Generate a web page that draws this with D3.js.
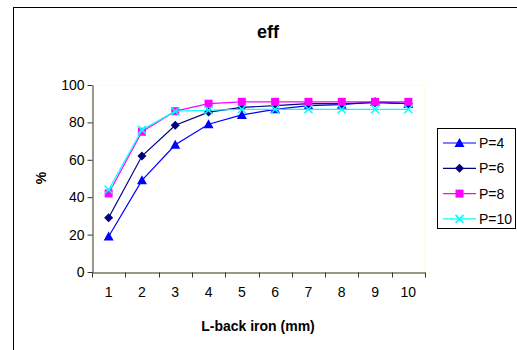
<!DOCTYPE html>
<html>
<head>
<meta charset="utf-8">
<script src="https://cdn.jsdelivr.net/npm/d3@7"></script>
<style>
  body { margin: 0; background: #fff; }
  svg { font-family: "Liberation Sans", Arial, sans-serif; }
</style>
</head>
<body>
<div id="chart"></div>
<script>
// chart data
const categories = ['1', '2', '3', '4', '5', '6', '7', '8', '9', '10'];
const p4 = [19, 49, 68, 79, 84, 87, 89, 89.5, 91, 90];
const p6 = [29, 62, 78.5, 85.5, 88, 89, 90, 90, 90.5, 90];
const p8 = [42, 75, 86, 90, 91, 91, 91, 91, 91, 91];
const p10 = [44, 76, 86, 86.5, 87, 87, 87, 87, 87, 87];
const yTicks = [0, 20, 40, 60, 80, 100];

const series = [
  {name: 'P=4', values: p4, color: '#0000ff', marker: 'triangle'},
  {name: 'P=6', values: p6, color: '#000080', marker: 'diamond'},
  {name: 'P=8', values: p8, color: '#ff00ff', marker: 'square'},
  {name: 'P=10', values: p10, color: '#00ffff', marker: 'cross'}
];

const width = 517;
const height = 350;
const plot = {left: 92, top: 85, right: 425, bottom: 272};

const svg = d3.select('#chart').append('svg')
  .attr('width', width)
  .attr('height', height);

// outer chart frame
svg.append('rect')
  .attr('x', 13.5)
  .attr('y', 7.5)
  .attr('width', 600)
  .attr('height', 400)
  .attr('fill', '#fff')
  .attr('stroke', '#000')
  .attr('stroke-width', 1);

const x = d3.scaleBand()
  .domain(categories)
  .range([plot.left, plot.right])
  .padding(0);

const y = d3.scaleLinear()
  .domain([0, 100])
  .range([plot.bottom, plot.top]);

// plot area border (pale)
svg.append('rect')
  .attr('x', plot.left)
  .attr('y', plot.top + 0.5)
  .attr('width', plot.right - plot.left)
  .attr('height', plot.bottom - plot.top)
  .attr('fill', 'none')
  .attr('stroke', '#ffffd0');

// y axis
const yAxis = svg.append('g')
  .attr('transform', `translate(${plot.left + 0.5},0)`)
  .call(d3.axisLeft(y).tickValues(yTicks).tickSize(5).tickSizeOuter(0));
yAxis.select('.domain').attr('stroke', '#333');
yAxis.selectAll('.tick line').attr('stroke', '#333');
yAxis.selectAll('text')
  .attr('fill', '#000')
  .attr('font-size', '14px')
  .attr('font-family', '"Liberation Sans", Arial, sans-serif')
  .attr('x', -8);

// x axis: labels centred in bands, ticks on band edges
const xAxis = svg.append('g')
  .attr('transform', `translate(0,${plot.bottom + 0.5})`)
  .call(d3.axisBottom(x).tickSize(0).tickSizeOuter(0));
xAxis.select('.domain').attr('stroke', '#333');
xAxis.selectAll('text')
  .attr('fill', '#000')
  .attr('font-size', '14px')
  .attr('font-family', '"Liberation Sans", Arial, sans-serif')
  .attr('y', 15);

const edges = categories.map(c => x(c)).concat([x.range()[1]]);
xAxis.selectAll('.edge')
  .data(edges)
  .enter().append('line')
  .attr('class', 'edge')
  .attr('x1', d => Math.round(d) + 0.5)
  .attr('x2', d => Math.round(d) + 0.5)
  .attr('y1', 0)
  .attr('y2', 5)
  .attr('stroke', '#333');

const cx = c => x(c) + x.bandwidth() / 2;

const line = d3.line()
  .x((d, i) => cx(categories[i]))
  .y(d => y(d));

function drawMarker(g, type, color) {
  if (type === 'triangle') {
    g.append('path').attr('d', 'M0,-5 L5,4 L-5,4 Z').attr('fill', color);
  } else if (type === 'diamond') {
    g.append('path').attr('d', 'M0,-4.5 L4.5,0 L0,4.5 L-4.5,0 Z').attr('fill', color);
  } else if (type === 'square') {
    g.append('rect').attr('x', -4).attr('y', -4).attr('width', 8).attr('height', 8).attr('fill', color);
  } else {
    g.append('path').attr('d', 'M-4,-4 L4,4 M-4,4 L4,-4')
      .attr('stroke', color).attr('stroke-width', 1.5).attr('fill', 'none');
  }
}

series.forEach(s => {
  svg.append('path')
    .datum(s.values)
    .attr('d', line)
    .attr('fill', 'none')
    .attr('stroke', s.color)
    .attr('stroke-width', 1.2);

  s.values.forEach((v, i) => {
    const g = svg.append('g')
      .attr('transform', `translate(${cx(categories[i])},${y(v)})`);
    drawMarker(g, s.marker, s.color);
  });
});

// title and axis labels
svg.append('text')
  .attr('x', 268)
  .attr('y', 38)
  .attr('text-anchor', 'middle')
  .attr('font-size', '18px')
  .attr('font-weight', 'bold')
  .text('eff');

svg.append('text')
  .attr('transform', 'translate(46,178) rotate(-90)')
  .attr('text-anchor', 'middle')
  .attr('font-size', '14px')
  .attr('font-weight', 'bold')
  .text('%');

svg.append('text')
  .attr('x', 258)
  .attr('y', 331)
  .attr('text-anchor', 'middle')
  .attr('font-size', '14px')
  .attr('font-weight', 'bold')
  .text('L-back iron (mm)');

// legend
const legend = svg.append('g');
legend.append('rect')
  .attr('x', 437.5)
  .attr('y', 128.5)
  .attr('width', 78)
  .attr('height', 100)
  .attr('fill', '#fff')
  .attr('stroke', '#000');

series.forEach((s, i) => {
  const ly = 143 + i * 25.3;
  const g = legend.append('g');
  g.append('line')
    .attr('x1', 443).attr('x2', 476)
    .attr('y1', ly).attr('y2', ly)
    .attr('stroke', s.color)
    .attr('stroke-width', 1.2);
  drawMarker(g.append('g').attr('transform', `translate(459.5,${ly})`), s.marker, s.color);
  g.append('text')
    .attr('x', 479)
    .attr('y', ly + 5)
    .attr('font-size', '14px')
    .text(s.name);
});
</script>
</body>
</html>
